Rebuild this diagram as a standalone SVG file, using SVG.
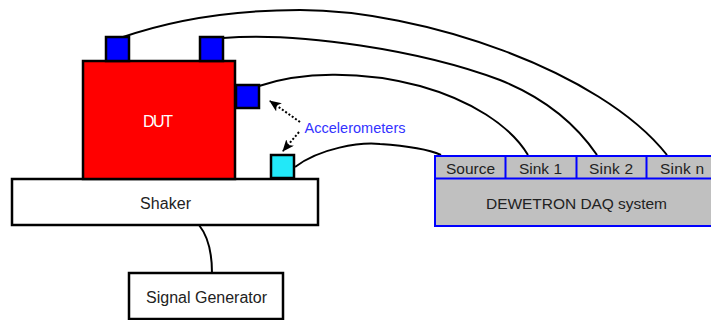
<svg xmlns="http://www.w3.org/2000/svg" width="711" height="320" viewBox="0 0 711 320">
<defs>
<style>
.box{stroke:#000;stroke-width:2.5}
.wire{fill:none;stroke:#000;stroke-width:2}
.dot{fill:none;stroke:#000;stroke-width:2;stroke-dasharray:2,2}
.t{font-family:"Liberation Sans",Arial,sans-serif;font-size:15.5px;fill:#222;text-anchor:middle}
.daq{fill:#c0c0c0;stroke:#0000ff;stroke-width:2}
</style>
<marker id="ah" viewBox="0 0 12 10" refX="11" refY="5" markerWidth="12" markerHeight="10" markerUnits="userSpaceOnUse" orient="auto">
<path d="M0,0 L12,5 L0,10 L3,5 Z" fill="#000"/>
</marker>
</defs>
<rect width="711" height="320" fill="#fff"/>
<g id="connectors">
<path class="wire" d="M120,38 C160,24 220,10 300,10 C420,10 600,70 667,155"/>
<path class="wire" d="M223,38 C300,32 420,50 500,80 C550,100 580,130 597,155"/>
<path class="wire" d="M259,86 C300,72 360,70 420,86 C470,100 510,125 528,155"/>
<path class="wire" d="M295,167 C320,148 360,142 380,144 C410,146 430,150 441,155"/>
<path class="wire" d="M199,225 C207,235 212,250 212,273"/>
<path class="dot" d="M300,122 L270,101" marker-end="url(#ah)"/>
<path class="dot" d="M299,132 L283,151" marker-end="url(#ah)"/>
</g>
<g id="shaker">
<rect class="box" x="12" y="179" width="306" height="46" fill="#fff"/>
<text class="t" x="165.5" y="209" style="font-size:16px" textLength="51">Shaker</text>
</g>
<g id="dut">
<rect class="box" x="83" y="61" width="152" height="118" fill="#ff0000"/>
<text class="t" x="158" y="127" style="fill:#fff;font-size:16px" textLength="30">DUT</text>
</g>
<g id="acc1"><rect class="box" x="106" y="37" width="23" height="24" fill="#0000ff"/></g>
<g id="acc2"><rect class="box" x="200" y="37" width="23" height="24" fill="#0000ff"/></g>
<g id="acc3"><rect class="box" x="236" y="85" width="23" height="23" fill="#0000ff"/></g>
<g id="acc-ref"><rect class="box" x="271" y="155" width="23" height="23" fill="#22e8f8"/></g>
<g id="label-acc">
<text class="t" x="355" y="133" style="fill:#3333ff;font-size:14.5px" textLength="101">Accelerometers</text>
</g>
<g id="signal-generator">
<rect class="box" x="129" y="273" width="154" height="46" fill="#fff"/>
<text class="t" x="206.5" y="303" style="font-size:16px" textLength="121">Signal Generator</text>
</g>
<g id="daq">
<rect class="daq" x="435" y="156" width="290" height="70"/>
<line x1="435" y1="178.5" x2="711" y2="178.5" stroke="#0000ff" stroke-width="2"/>
<line x1="505.5" y1="156" x2="505.5" y2="178" stroke="#0000ff" stroke-width="2"/>
<line x1="576.5" y1="156" x2="576.5" y2="178" stroke="#0000ff" stroke-width="2"/>
<line x1="646.5" y1="156" x2="646.5" y2="178" stroke="#0000ff" stroke-width="2"/>
<text class="t" x="470.5" y="174" textLength="49">Source</text>
<text class="t" x="540.5" y="174" textLength="43">Sink 1</text>
<text class="t" x="611" y="174" textLength="44">Sink 2</text>
<text class="t" x="682" y="174" textLength="44">Sink n</text>
<text class="t" x="576.5" y="209" textLength="181">DEWETRON DAQ system</text>
</g>
</svg>
